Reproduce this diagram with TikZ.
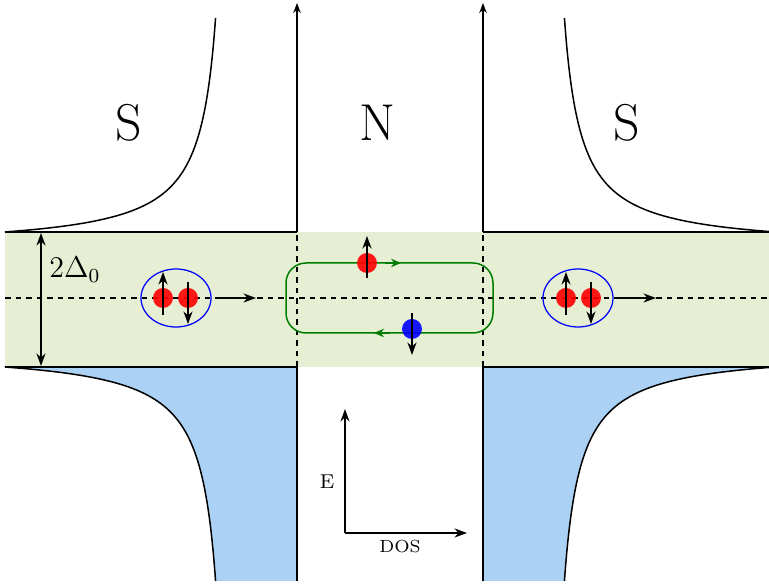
\documentclass[tikz,border=0pt]{standalone}
\usepackage{amsmath}
\usepackage{tikz}
\usetikzlibrary{positioning,arrows.meta}
\usepackage{xcolor}
\definecolor{gapgreen}{RGB}{230,239,212}
\definecolor{dosblue}{RGB}{171,209,244}
\definecolor{loopgreen}{RGB}{0,125,0}

\begin{document}
\begin{tikzpicture}[
    x=0.4pt, y=-0.4pt,
    every node/.style={inner sep=0pt},
    edgeline/.style={line width=0.6pt},
    midline/.style={line width=0.6pt, dash pattern=on 2.2pt off 2pt},
    arrow/.style={-{Stealth[length=5pt,width=3.6pt]}, line width=0.8pt},
    loopline/.style={draw=loopgreen, line width=0.6pt},
    pair/.style={draw=blue, line width=0.5pt},
    electron/.style={fill=red, fill opacity=0.9},
    hole/.style={fill=blue, fill opacity=0.9},
    dos/.style={domain=0:214, samples=120, variable=\d, smooth}
]
\useasboundingbox (0,0) rectangle (769,584);

% gap region
\fill[gapgreen] (5,232) rectangle (769,367);

% occupied states (blue)
\fill[dosblue] plot[dos] ({232-3794/(\d+16.7)}, {367+\d})
    -- (297,581) -- (297,367) -- cycle;
\fill[dosblue] plot[dos] ({548+3794/(\d+16.7)}, {367+\d})
    -- (483,581) -- (483,367) -- cycle;

% DOS curves of the leads
\draw[edgeline] plot[dos] ({232-3794/(\d+16.7)}, {232-\d});
\draw[edgeline] plot[dos] ({232-3794/(\d+16.7)}, {367+\d});
\draw[edgeline] plot[dos] ({548+3794/(\d+16.7)}, {232-\d});
\draw[edgeline] plot[dos] ({548+3794/(\d+16.7)}, {367+\d});

% gap edges
\draw[edgeline] (5,232) -- (297,232);
\draw[edgeline] (483,232) -- (769,232);
\draw[edgeline] (5,367) -- (297,367);
\draw[edgeline] (483,367) -- (769,367);

% interfaces
\draw[edgeline] (297,581) -- (297,367);
\draw[edgeline, dash pattern=on 2.2pt off 2pt] (297,367) -- (297,232);
\draw[edgeline, -{Stealth[length=4pt,width=3pt]}] (297,232) -- (297,3);
\draw[edgeline] (483,581) -- (483,367);
\draw[edgeline, dash pattern=on 2.2pt off 2pt] (483,367) -- (483,232);
\draw[edgeline, -{Stealth[length=4pt,width=3pt]}] (483,232) -- (483,3);

% Fermi level
\draw[midline] (5,298) -- (769,298);

% gap size
\coordinate (gapTop) at (41,233);
\coordinate (gapBot) at (41,366);
\draw[{Stealth[length=5pt,width=3.6pt]}-{Stealth[length=5pt,width=3.6pt]}, line width=0.8pt] (gapTop) -- (gapBot);
\node (gap) at (75,270) {\large $2\Delta_0$};

% region labels
\node (sLeft) at (129,123) {\huge S};
\node (nMid) at (377,123) {\huge N};
\node (sRight) at (627,123) {\huge S};

% Andreev loop
\draw[loopline, rounded corners=8pt] (286,263) rectangle (493,333);
\draw[loopline, -{Stealth[length=4pt,width=3.4pt]}] (385,263) -- (401,263);
\draw[loopline, -{Stealth[length=4pt,width=3.4pt]}] (390,333) -- (374,333);

% electron and hole
\fill[electron] (367,263) circle (10);
\draw[arrow] (367,278) -- (367,236);
\fill[hole] (412,329) circle (10);
\draw[arrow] (412,313) -- (412,355);

% Cooper pair, left
\draw[pair] (176,298) ellipse [x radius=35, y radius=29];
\fill[electron] (163,298) circle (10);
\fill[electron] (188,298) circle (10);
\draw[arrow] (163,315) -- (163,272);
\draw[arrow] (188,282) -- (188,324);
\draw[arrow] (221,298) -- (256,298);

% Cooper pair, right
\draw[pair] (578,298) ellipse [x radius=35, y radius=29];
\fill[electron] (566,298) circle (10);
\fill[electron] (591,298) circle (10);
\draw[arrow] (566,315) -- (566,272);
\draw[arrow] (591,282) -- (591,324);
\draw[arrow] (617,298) -- (656,298);

% axes
\coordinate (origin) at (345,533);
\coordinate (eTop) at (345,409);
\coordinate (dosEnd) at (467,533);
\draw[arrow] (origin) -- (eTop);
\draw[arrow] (origin) -- (dosEnd);
\node (eLab) at (327,482) {\footnotesize E};
\node (dosLab) at (400,547) {\scriptsize DOS};
\end{tikzpicture}
\end{document}
